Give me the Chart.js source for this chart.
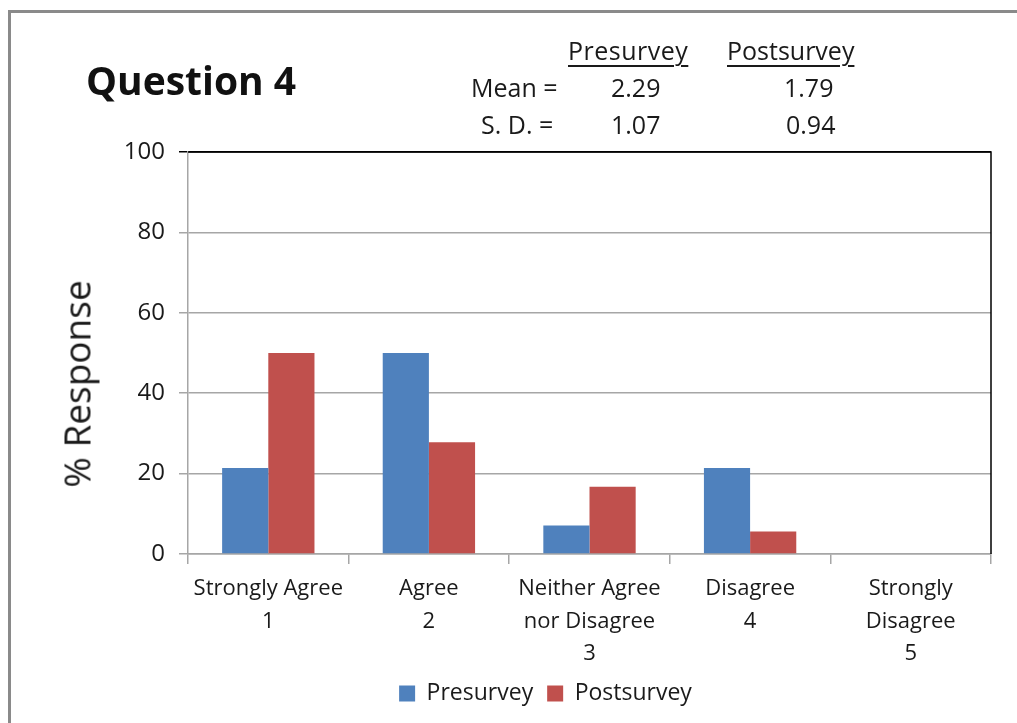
<!DOCTYPE html>
<html>
<head>
<meta charset="utf-8">
<script src="https://cdn.jsdelivr.net/npm/chart.js@4"></script>
<style>
  html, body { margin: 0; padding: 0; background: #fff; }
  body { width: 1017px; height: 723px; position: relative; overflow: hidden;
         font-family: "Open Sans", sans-serif; color: #111; }
  #frame { position: absolute; left: 8px; top: 10px; right: -10px; bottom: -10px;
           border-top: 3px solid #8a8a8a; border-left: 3px solid #8a8a8a; }
  #wrap { position: absolute; left: 0; top: 0; width: 1017px; height: 723px; }
  .txt { position: absolute; white-space: nowrap; line-height: 1; }
  #title { left: 86px; top: 60px; font-size: 39px; font-weight: bold; }
  .stat { font-size: 25px; color: #1a1a1a; }
  .hdr { text-decoration: underline; text-underline-offset: 5px; text-decoration-thickness: 2px; }
  #ytitle { left: 76px; top: 384px; font-size: 37px; color: #1a1a1a;
            transform: translate(-50%, -50%) rotate(-90deg); }
</style>
</head>
<body>
<div id="frame"></div>
<div id="wrap"><canvas id="chart" width="1017" height="723"></canvas></div>
<div class="txt" id="title">Question 4</div>
<div class="txt stat hdr" style="left:568px; top:38px; letter-spacing:0.5px;">Presurvey</div>
<div class="txt stat hdr" style="left:727px; top:38px;">Postsurvey</div>
<div class="txt stat" style="left:471px; top:75px;">Mean =</div>
<div class="txt stat" style="left:611px; top:75px;">2.29</div>
<div class="txt stat" style="left:784px; top:75px;">1.79</div>
<div class="txt stat" style="left:481px; top:112px;">S. D. =</div>
<div class="txt stat" style="left:611px; top:112px;">1.07</div>
<div class="txt stat" style="left:786px; top:112px;">0.94</div>
<div class="txt" id="ytitle">% Response</div>
<script>
"use strict";

// ── Data ──────────────────────────────────────────────
const categories = [
  ["Strongly Agree", "1"],
  ["Agree", "2"],
  ["Neither Agree", "nor Disagree", "3"],
  ["Disagree", "4"],
  ["Strongly", "Disagree", "5"],
];
const presurvey  = [21.4, 50.0, 7.1, 21.4, 0];
const postsurvey = [50.0, 27.8, 16.7, 5.6, 0];
const yTicks     = [0, 20, 40, 60, 80, 100];

const BLUE = "#4F81BD";
const RED  = "#C0504D";
const GRID = "#a6a6a6";
const FONT = "'Open Sans', sans-serif";

// Black frame on top/right of the plot area
const plotFrame = {
  id: "plotFrame",
  afterDraw(chart) {
    const { ctx, chartArea: a } = chart;
    ctx.save();
    ctx.strokeStyle = "#000";
    ctx.lineWidth = 1.5;
    ctx.beginPath();
    ctx.moveTo(a.left, a.top);
    ctx.lineTo(a.right, a.top);
    ctx.lineTo(a.right, a.bottom);
    ctx.stroke();
    ctx.restore();
  },
};

new Chart(document.getElementById("chart"), {
  type: "bar",
  data: {
    labels: categories,
    datasets: [
      { label: "Presurvey",  data: presurvey,  backgroundColor: BLUE },
      { label: "Postsurvey", data: postsurvey, backgroundColor: RED },
    ],
  },
  options: {
    responsive: false,
    animation: false,
    categoryPercentage: 0.575,
    barPercentage: 1.0,
    layout: { padding: { left: 100, top: 152, right: 26, bottom: 8 } },
    plugins: {
      legend: {
        position: "bottom",
        labels: {
          boxWidth: 16, boxHeight: 16, padding: 14,
          color: "#1a1a1a",
          font: { family: FONT, size: 23 },
        },
      },
      tooltip: { enabled: false },
    },
    scales: {
      x: {
        afterFit: (s) => { s.height = 114; },
        border: { color: GRID, width: 1.5 },
        grid: {
          offset: true, drawOnChartArea: false, drawTicks: true,
          tickLength: 10, color: GRID, lineWidth: 1.5,
        },
        ticks: {
          maxRotation: 0, autoSkip: false, padding: 9,
          color: "#1a1a1a",
          font: { family: FONT, size: 22, lineHeight: 1.47 },
        },
      },
      y: {
        min: 0, max: 100,
        afterFit: (s) => { s.width = 88; },
        afterBuildTicks: (s) => { s.ticks = yTicks.map((v) => ({ value: v })); },
        border: { color: GRID, width: 1.5 },
        grid: {
          color: (c) => (c.tick && c.tick.value === 100 ? "#000" : GRID),
          lineWidth: 1.5, tickLength: 9,
        },
        ticks: {
          padding: 14,
          color: "#1a1a1a",
          font: { family: FONT, size: 24 },
        },
      },
    },
  },
  plugins: [plotFrame],
});
</script>
</body>
</html>
